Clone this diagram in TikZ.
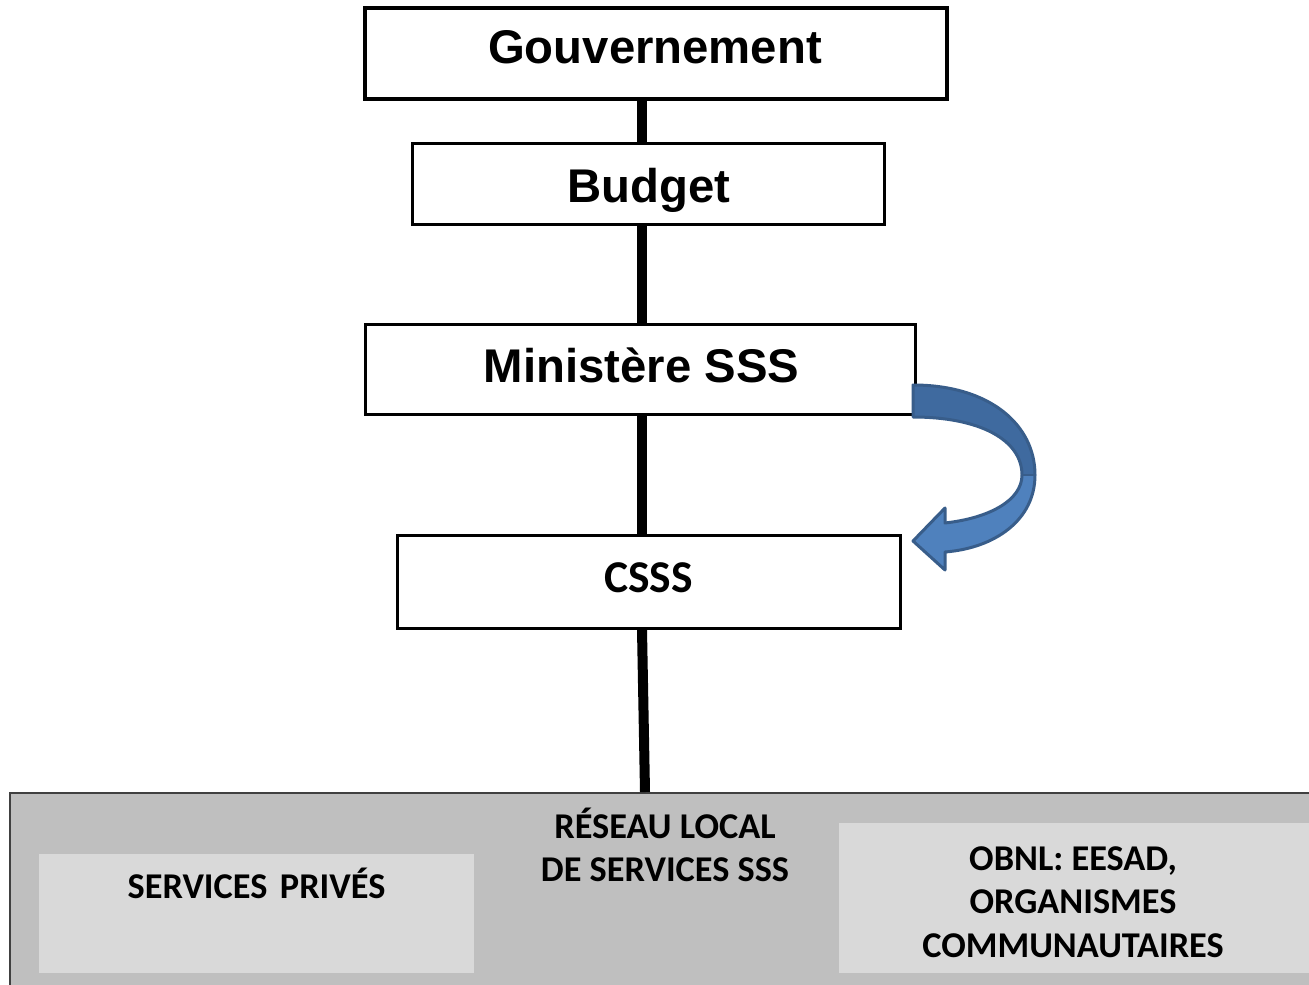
\documentclass[tikz,border=0pt]{standalone}
\usepackage{fontspec}
\setmainfont{Liberation Sans}
\newfontfamily\calfont{Carlito}
\definecolor{outergray}{HTML}{BFBFBF}
\definecolor{innergray}{HTML}{D9D9D9}
\definecolor{edgegray}{HTML}{404040}
\definecolor{arrowdark}{HTML}{3F6A9F}
\definecolor{arrowlight}{HTML}{4F81BD}
\definecolor{arrowedge}{HTML}{385D8A}
\tikzset{
  topbox/.style={draw=black, line width=3pt, fill=white, inner sep=0pt},
  toptext/.style={anchor=base, inner sep=0pt, font=\bfseries\fontsize{47.3}{56}\selectfont},
  spineline/.style={line width=10pt, black},
  graybox/.style={fill=innergray, draw=none, inner sep=0pt},
  caltext/.style={anchor=base, font=\calfont\bfseries\fontsize{36.3}{43.5}\selectfont, align=center, inner sep=0pt}
}
\begin{document}
\begin{tikzpicture}[x=1pt,y=-1pt]
\useasboundingbox (0,0) rectangle (1309,985);
\fill[white] (0,0) rectangle (1309,985);

\coordinate (spine) at (642,0);
\coordinate (spineb) at (645,0);

% boxes
\node[topbox, line width=4.5pt, minimum width=582pt, minimum height=91pt] (gouv) at (656,53.5) {};
\node[topbox, minimum width=472pt, minimum height=81pt] (budget) at (648,183.5) {};
\node[topbox, minimum width=550pt, minimum height=90pt] (min) at (640,369) {};
\node[topbox, minimum width=503pt, minimum height=93pt] (csss) at (648.5,581.5) {};

\node[fill=outergray, draw=edgegray, line width=2pt, minimum width=1302pt, minimum height=196pt, inner sep=0pt] (reseau) at (661,891) {};
\node[graybox, minimum width=435pt, minimum height=119pt] (prives) at (256.5,913.5) {};
\node[graybox, minimum width=470pt, minimum height=150pt] (obnl) at (1074,898) {};

% texts
\node[toptext] (gouvtxt) at (655,63) {Gouvernement};
\node[toptext] (budgettxt) at (649,202) {Budget};
\node[toptext] (mintxt) at (641.5,382) {Minist\`ere SSS};
\node[caltext, font=\calfont\bfseries\fontsize{45.5}{54}\selectfont] (cssstxt) at (648.5,592.5) {CSSS};
\node[caltext] (reseautxt) at (665,881.5) {RÉSEAU LOCAL\\DE SERVICES SSS};
\node[caltext] (privestxt) at (256.5,898) {SERVICES\hspace{0.12em} PRIVÉS};
\node[caltext] (obnltxt) at (1073,957) {OBNL: EESAD,\\ORGANISMES\\COMMUNAUTAIRES};

% spine connectors
\draw[spineline] (gouv.south -| spine) -- (budget.north -| spine);
\draw[spineline] (budget.south -| spine) -- (min.north -| spine);
\draw[spineline] (min.south -| spine) -- (csss.north -| spine);
\draw[spineline] (csss.south -| spine) -- (reseau.north -| spineb);

% curved block arrow from Ministere to CSSS
\fill[arrowlight] (913,385) .. controls (990,385) and (1035,425) .. (1035,475)
   .. controls (1035,520) and (995,548) .. (945,552) -- (945,570) -- (913,541) -- (945,508) -- (945,523)
   .. controls (990,518) and (1022,500) .. (1022,475)
   .. controls (1022,440) and (980,417) .. (913,417) -- cycle;
\fill[arrowdark] (913,385) .. controls (990,385) and (1035,425) .. (1035,475)
   -- (1022,475) .. controls (1022,440) and (980,417) .. (913,417) -- cycle;
\draw[arrowedge, line width=3pt, line join=round] (913,385) .. controls (990,385) and (1035,425) .. (1035,475)
   .. controls (1035,520) and (995,548) .. (945,552) -- (945,570) -- (913,541) -- (945,508) -- (945,523)
   .. controls (990,518) and (1022,500) .. (1022,475)
   .. controls (1022,440) and (980,417) .. (913,417) -- cycle;
\draw[arrowedge, line width=2pt] (1022,475) -- (1035,475);
\end{tikzpicture}
\end{document}
